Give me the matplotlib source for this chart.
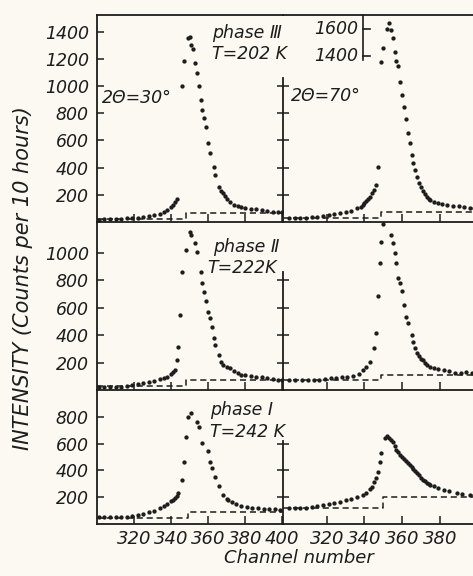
import matplotlib.pyplot as plt
import numpy as np

# counts per channel, one pair of lists per panel
# top row: phase III, T=202 K
tl_ch = [301, 304, 307, 310, 313, 316, 319, 322, 325, 328, 331, 334, 336, 338, 340, 341, 342, 343,
         346, 347, 349, 350, 351, 352, 353, 354, 355, 356, 357, 358, 359, 360, 361, 363, 364, 366,
         367, 368, 369, 370, 372, 374, 376, 378, 380, 383, 386, 389, 392, 395, 398, 400]
tl_counts = [18, 20, 20, 22, 24, 26, 30, 33, 38, 45, 52, 60, 72, 90, 112, 125, 150, 172,
             1000, 1184, 1353, 1360, 1300, 1272, 1169, 1096, 1000, 897, 823, 765, 700, 580, 507, 404, 346, 257,
             230, 210, 190, 170, 145, 128, 115, 108, 103, 99, 95, 88, 82, 77, 73, 70]
tr_ch = [300, 303, 306, 309, 312, 315, 318, 321, 324, 327, 330, 333, 336, 338, 339, 340, 341, 342, 343, 344, 345, 346, 347,
         349, 350, 352, 353, 354, 355, 356, 357, 358, 359, 360, 361, 362, 363, 364, 365, 366, 367, 368, 369, 370,
         371, 372, 373, 374, 375, 377, 379, 381, 384, 387, 390, 393, 396, 398]
tr_counts = [28, 29, 30, 33, 36, 40, 45, 50, 56, 63, 72, 84, 100, 113, 125, 140, 155, 170, 184, 215, 235, 272, 404,
             1360, 1460, 1600, 1640, 1593, 1533, 1433, 1367, 1327, 1030, 934, 846, 757, 654, 581, 493, 434, 382, 331, 290, 257,
             230, 205, 185, 170, 160, 148, 138, 130, 125, 120, 114, 110, 106, 102]

# middle row: phase II, T=222 K
ml_ch = [301, 304, 307, 310, 313, 316, 319, 322, 325, 328, 331, 334, 336, 338, 340, 341, 342, 343, 344, 345,
         346, 348, 350, 351, 353, 354, 356, 357, 358, 359, 360, 361, 362, 363, 364, 366, 367, 368, 370, 372,
         374, 376, 378, 380, 383, 386, 389, 392, 395, 398, 400]
ml_counts = [20, 20, 21, 22, 25, 30, 36, 42, 50, 58, 68, 78, 85, 97, 115, 130, 145, 218, 313, 545,
             858, 1018, 1149, 1130, 1069, 1004, 858, 778, 713, 647, 567, 524, 458, 378, 327, 255, 204, 185, 170, 160,
             140, 122, 112, 106, 100, 96, 92, 86, 79, 72, 70]
mr_ch = [300, 303, 307, 310, 313, 316, 319, 322, 325, 328, 331, 334, 337, 339, 341, 343, 345, 346, 347, 348, 349, 350,
         354, 355, 356, 357, 358, 359, 360, 361, 362, 363, 365, 366, 367, 368, 369, 370, 371, 372, 373, 375,
         377, 379, 382, 385, 388, 391, 394, 397]
mr_counts = [73, 73, 73, 74, 73, 76, 80, 85, 88, 92, 95, 105, 120, 145, 170, 204, 305, 415, 684, 924, 1076, 1207,
             1127, 1069, 996, 924, 815, 778, 720, 618, 531, 487, 400, 350, 305, 269, 245, 228, 218, 200, 185, 167,
             158, 150, 145, 135, 126, 124, 128, 125]

# bottom row: phase I, T=242 K
bl_ch = [301, 304, 307, 310, 313, 316, 319, 322, 325, 328, 331, 334, 336, 338, 340, 341, 342, 343, 344, 346,
         347, 348, 349, 351, 354, 355, 357, 360, 361, 362, 364, 366, 368, 370, 371, 373, 375, 378, 381, 384,
         387, 390, 393, 396, 399]
bl_counts = [50, 50, 50, 52, 52, 55, 60, 66, 75, 86, 100, 119, 132, 150, 170, 180, 195, 210, 231, 328,
             463, 649, 799, 828, 761, 724, 604, 545, 463, 418, 351, 284, 216, 190, 179, 165, 150, 138, 128, 122,
             118, 114, 112, 110, 105]
br_ch = [300, 303, 306, 309, 312, 315, 318, 321, 324, 327, 330, 333, 336, 339, 341, 343, 344, 345, 346, 347,
         348, 349, 351, 352, 353, 354, 355, 356, 357, 358, 359, 360, 361, 362, 363, 364, 365, 366, 367, 368,
         369, 370, 371, 372, 373, 374, 375, 377, 379, 382, 385, 389, 392, 396, 398]
br_counts = [119, 120, 119, 122, 127, 133, 140, 149, 157, 165, 179, 188, 198, 216, 235, 260, 276, 310, 343, 388,
             463, 530, 642, 655, 640, 627, 612, 580, 552, 535, 518, 500, 482, 468, 454, 440, 425, 410, 395, 381,
             362, 345, 328, 318, 308, 300, 291, 280, 270, 254, 245, 231, 225, 216, 214]

# dashed background steps, order TL, TR, ML, MR, BL, BR
bg_step = [348, 349, 348, 349, 349, 350]
bg_low = [22, 29, 29, 73, 45, 119]
bg_high = [66, 74, 73, 109, 92, 201]

row_phase = ['phase Ⅲ', 'phase Ⅱ', 'phase Ⅰ']
row_temp = ['T=202 K', 'T=222K', 'T=242 K']
left_yticks = [[200, 400, 600, 800, 1000, 1200, 1400], [200, 400, 600, 800, 1000], [200, 400, 600, 800]]
right_yticks = [[200, 400, 600, 800, 1000], [200, 400, 600, 800], [200, 400, 600]]
inset_ticks = [1400, 1600]

# the 70 deg peak in the top row is drawn on a broken scale (shifted down)
BREAK = 1300
OFFSET = 180
tr_display = np.where(np.array(tr_counts) >= BREAK, np.array(tr_counts) - OFFSET, tr_counts)

INK = '#1d1d1d'
PAPER = '#fbf9f1'
plt.rcParams['font.family'] = 'DejaVu Sans'
plt.rcParams['font.style'] = 'italic'
plt.rcParams['text.color'] = INK
plt.rcParams['xtick.color'] = INK
plt.rcParams['ytick.color'] = INK

W, H = 473, 576
fig = plt.figure(figsize=(W / 100, H / 100), dpi=100, facecolor=PAPER)


def box(x0, y0, x1, y1):
    return [x0 / W, 1 - y1 / H, (x1 - x0) / W, (y1 - y0) / H]


rows = [(15, 222), (222, 390), (390, 524)]
ytop = [1522, 1222, 1000]
spine_top = [1060, 858, 620]
data = [(tl_ch, tl_counts), (tr_ch, tr_display), (ml_ch, ml_counts),
        (mr_ch, mr_counts), (bl_ch, bl_counts), (br_ch, br_counts)]
xl_left = (300, 400.5)
xl_right = (296.8, 397.6)

axes = []
for r, (y0, y1) in enumerate(rows):
    axl = fig.add_axes(box(97, y0, 283, y1))
    axr = fig.add_axes(box(283, y0, 473, y1))
    for c, ax in enumerate([axl, axr]):
        k = 2 * r + c
        ax.set_facecolor('none')
        ax.set_ylim(0, ytop[r])
        ax.set_xlim(*(xl_left if c == 0 else xl_right))
        ax.spines['right'].set_visible(False)
        ax.spines['top'].set_visible(r == 0)
        for s in ax.spines.values():
            s.set_linewidth(1.3)
            s.set_color(INK)
        ch, cnt = data[k]
        ax.plot(ch, cnt, 'o', ms=3.1, color=INK, mec='none')
        x0, x1 = ax.get_xlim()
        ax.step([x0, bg_step[k], x1], [bg_low[k], bg_high[k], bg_high[k]], where='post',
                color=INK, lw=1.1, ls=(0, (4, 2.5)))
        ax.set_xticks([320, 340, 360, 380, 400] if c == 0 else [320, 340, 360, 380])
        ax.tick_params(axis='x', direction='in', length=6, width=1.1,
                       labelbottom=(r == 2), labelsize=13, pad=4)
        if c == 0:
            ax.set_yticks(left_yticks[r])
            ax.tick_params(axis='y', direction='in', length=5, width=1.1, labelsize=12.5, pad=6)
        else:
            ax.set_yticks(right_yticks[r])
            ax.spines['left'].set_bounds(0, spine_top[r])
            ax.tick_params(axis='y', direction='inout', length=9, width=1.1, labelleft=False)
    axes.append((axl, axr))

# small broken-scale axis for the top of the 70 deg peak
axr0 = axes[0][1]
ix = 339.3
axr0.plot([ix, ix], [1190, ytop[0]], color=INK, lw=1.2, clip_on=False)
for v in inset_ticks:
    d = v - OFFSET
    axr0.plot([ix, ix + 3.5], [d, d], color=INK, lw=1.2)
    axr0.text(ix - 2.5, d, str(v), ha='right', va='center', fontsize=12.5)

# annotations
fig.text(102 / W, 1 - 98 / H, '2Θ=30°', fontsize=12.5, ha='left', va='center')
fig.text(291 / W, 1 - 96 / H, '2Θ=70°', fontsize=12.5, ha='left', va='center')
phase_xy = [(212, 33), (213, 247), (210, 410)]
temp_xy = [(212, 54), (207, 268), (210, 432)]
for r in range(3):
    fig.text(phase_xy[r][0] / W, 1 - phase_xy[r][1] / H, row_phase[r], fontsize=12.5,
             ha='left', va='center')
    fig.text(temp_xy[r][0] / W, 1 - temp_xy[r][1] / H, row_temp[r], fontsize=12.5,
             ha='left', va='center')

fig.text(23 / W, 1 - 278 / H, 'INTENSITY (Counts per 10 hours)', rotation=90,
         fontsize=15, ha='center', va='center')
fig.text(299 / W, 1 - 558 / H, 'Channel number', fontsize=13, ha='center', va='center')

fig.savefig('out.png', dpi=100, facecolor=PAPER)
